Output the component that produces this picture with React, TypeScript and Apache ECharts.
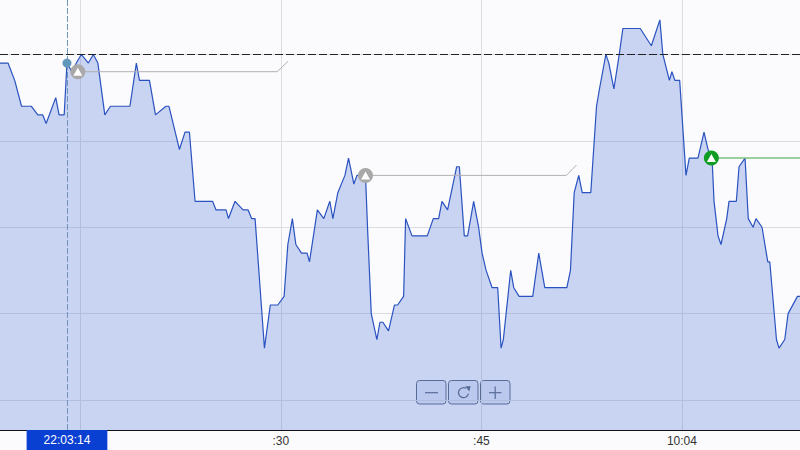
import React, { useEffect, useRef } from "react";
import * as echarts from "echarts";

// seconds after 22:03:00 (60 = 22:04:00)
const times = [8.97,9.59,10.09,10.6,11.34,11.82,12.19,12.44,13.16,13.41,13.79,14,14.36,14.7,15.07,15.6,15.97,16.31,16.83,17.25,18.71,19.19,19.42,20.17,20.62,21.4,21.63,22.41,22.83,23.16,23.58,24.89,25.15,25.9,26.08,26.57,27.17,27.55,27.81,28.07,28.77,29.21,29.77,30.24,30.52,30.86,31.12,31.54,31.96,32.14,32.73,33.21,33.66,33.89,34.26,34.79,35.06,35.46,35.69,36.33,36.48,36.76,37.18,37.41,37.63,38.05,38.5,38.73,39.18,39.33,39.81,40.95,41.4,41.8,42.05,42.47,43.15,43.35,43.72,43.97,44.42,44.79,45.05,45.35,45.8,46.22,46.47,46.64,47.19,47.42,47.82,48.84,49.29,49.74,51.39,51.66,51.94,52.28,52.54,53.18,53.61,53.83,54.31,54.53,54.91,55.31,55.58,56.88,57.71,58.35,58.57,59.06,59.25,59.47,59.83,60.3,60.55,61.2,61.65,61.95,62.25,62.4,62.7,62.92,63.35,63.52,64.07,64.27,64.72,64.96,65.32,65.54,65.99,66.42,66.57,67.07,67.26,67.69,67.94,68.64,68.89];
const values = [139,139,137,134,134,133,133,132,135,133,133,139,138,139,140,139,140,139,133,134,134,139,137,137,133,134,134,129,131,131,123,123,122,122,121,123,122,122,121,121,106,111,111,112,118,121,118,117,117,116,122,121,123,121,124,126,128,125,126,126,120,110,107,109,109,108,111,111,112,121,119,119,121,121,123,122,127,127,119,119,123,120,117,115,113,113,106,107,115,113,112,112,117,113,113,115,124,126,124,124,134,136,140,139,136,140,143,143,141,144,140,137,138,137,137,126,128,128,131,129,128,123,119,118,121,123,123,127,128,121,120,121,120,116,116,107,106,107,110,112,112];

const xGridTicks = [15, 30, 45, 60];
const xLabelTicks = [30, 45, 60];
const xLabels = [":30", ":45", "10:04"];
const yGridTicks = [100, 110, 120, 130, 140];
const referenceLevel = 140;
const crosshairTime = 14;
const crosshairLabel = "22:03:14";
const crosshairValue = 139;

const greyA = [[14.81, 138], [29.72, 138], [30.54, 139.2]];
const greyB = [[36.33, 126], [51.36, 126], [52.11, 127.2]];
const green = [[62.2, 128], [69, 128]];

const BLUE = "#2a52c0";
const MUTED = "#5f6b80";

export default function App() {
  const ref = useRef<HTMLDivElement>(null);
  useEffect(() => {
    const chart = echarts.init(ref.current!, null, { renderer: "svg" });
    const rect = (x: number) => ({
      type: "rect",
      shape: { x: x + 0.5, y: 380.5, width: 29.5, height: 23.5, r: 3 },
      style: { fill: "rgba(200,210,240,0.35)", stroke: MUTED, lineWidth: 1 },
    });
    const seg = (x1: number, y1: number, x2: number, y2: number) => ({
      type: "line",
      shape: { x1, y1, x2, y2 },
      style: { stroke: MUTED, lineWidth: 1.2 },
    });
    const marker = (point: number[], color: string) => [
      {
        type: "scatter", data: [point], symbol: "circle", symbolSize: 15, z: 6, silent: true,
        itemStyle: { color, opacity: 1 },
      },
      {
        type: "scatter", data: [point], symbol: "triangle", symbolSize: [9, 8], z: 7, silent: true,
        itemStyle: { color: "#fff", opacity: 1 },
      },
    ];
    chart.setOption({
      animation: false,
      backgroundColor: "#fbfbfd",
      grid: { left: 0, right: 0, top: 0, bottom: 20 },
      xAxis: {
        type: "value",
        min: 8.99,
        max: 68.83,
        axisLine: { show: true, onZero: false, lineStyle: { color: "#111", width: 1 } },
        axisTick: { show: false, customValues: xGridTicks },
        splitLine: { show: true, lineStyle: { color: "#dcdde2", width: 1 } },
        axisLabel: {
          customValues: xLabelTicks,
          hideOverlap: false,
          margin: 5,
          fontFamily: "Liberation Sans",
          fontSize: 12,
          color: "#333",
          formatter: (v: number) => xLabels[xLabelTicks.indexOf(v)] ?? "",
        },
        axisPointer: {
          show: true,
          type: "line",
          status: "show",
          value: crosshairTime,
          snap: false,
          triggerTooltip: false,
          lineStyle: { color: "#7096b8", type: [6, 2], width: 1 },
          label: {
            show: true,
            formatter: () => crosshairLabel,
            backgroundColor: "#0a40d2",
            color: "#fff",
            fontFamily: "Liberation Sans",
            fontSize: 12,
            padding: [4, 17, 4, 17],
            margin: 2,
            borderRadius: 0,
            shadowBlur: 0,
          },
        },
      },
      yAxis: {
        type: "value",
        min: 96.53,
        max: 146.3,
        axisLine: { show: false },
        axisTick: { show: false, customValues: yGridTicks },
        axisLabel: { show: false },
        splitLine: { show: true, lineStyle: { color: "#dcdde2", width: 1 } },
      },
      series: [
        {
          type: "line",
          data: times.map((t, i) => [t, values[i]]),
          symbol: "none",
          lineStyle: { color: BLUE, width: 1.2 },
          areaStyle: { color: "rgba(72,112,215,0.28)", origin: "start", opacity: 1 },
          z: 2,
          silent: true,
          markLine: {
            silent: true,
            symbol: "none",
            label: { show: false },
            data: [{ yAxis: referenceLevel }],
            lineStyle: { color: "#222", type: [8, 3], width: 1.2 },
            z: 3,
          },
        },
        { type: "line", data: greyA, symbol: "none", lineStyle: { color: "#b0b0b0", width: 1 }, z: 4, silent: true },
        { type: "line", data: greyB, symbol: "none", lineStyle: { color: "#b0b0b0", width: 1 }, z: 4, silent: true },
        { type: "line", data: green, symbol: "none", lineStyle: { color: "#7cc27f", width: 1.5 }, z: 4, silent: true },
        {
          type: "scatter", data: [[crosshairTime, crosshairValue]], symbol: "circle", symbolSize: 9, z: 5, silent: true,
          itemStyle: { color: "#5f96bb", opacity: 1 },
        },
        ...marker(greyA[0], "#a8a8a8"),
        ...marker(greyB[0], "#a8a8a8"),
        ...marker(green[0], "#0f9d23"),
      ],
      graphic: {
        elements: [
          {
            type: "group",
            z: 20,
            children: [
              rect(416),
              rect(448),
              rect(480),
              seg(425, 392.7, 438, 392.7),
              seg(489, 392.7, 501.5, 392.7),
              seg(495.2, 386.5, 495.2, 399),
              {
                type: "arc",
                shape: { cx: 463.5, cy: 392.7, r: 5, startAngle: 0.2, endAngle: 5.2, clockwise: true },
                style: { stroke: MUTED, lineWidth: 1.3, fill: "none" },
              },
              {
                type: "polygon",
                shape: { points: [[465, 386.5], [470.5, 386], [469.5, 391.5]] },
                style: { fill: MUTED },
              },
            ],
          },
        ],
      },
    });
    return () => chart.dispose();
  }, []);
  return <div ref={ref} style={{ position: "fixed", left: 0, top: 0, width: 800, height: 450 }} />;
}
